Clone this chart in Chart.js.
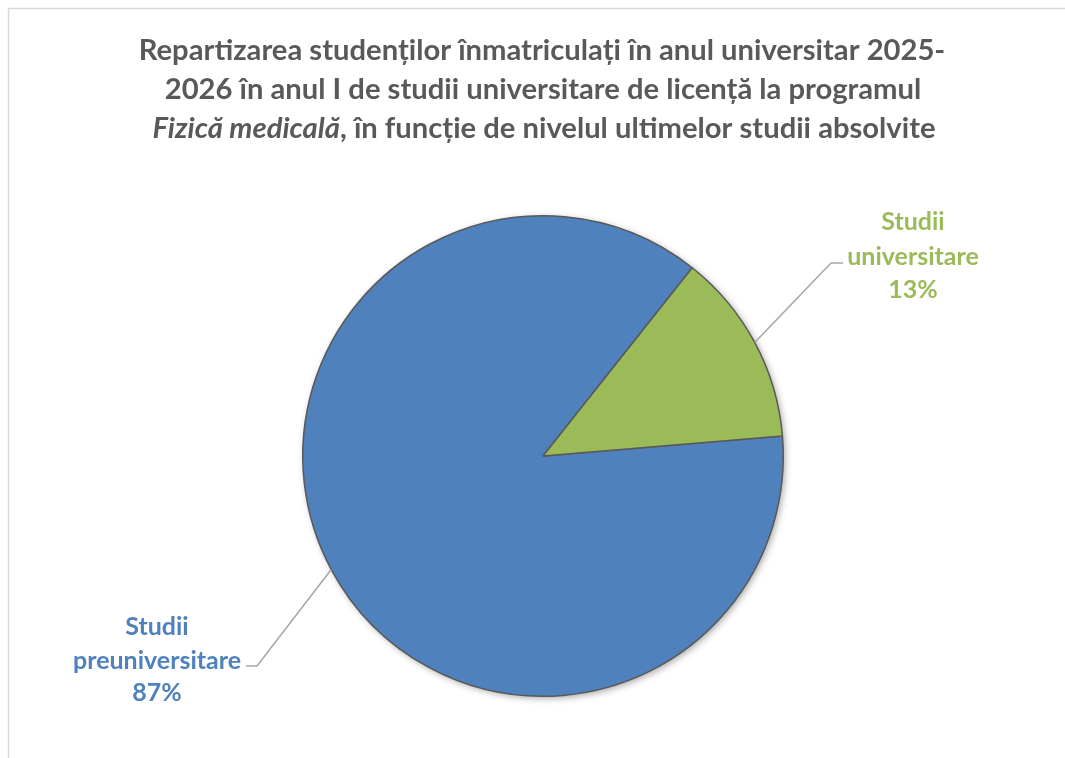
<!DOCTYPE html>
<html><head><meta charset="utf-8">
<script src="https://cdn.jsdelivr.net/npm/chart.js@4.4.1/dist/chart.umd.min.js"></script>
<style>html,body{margin:0;padding:0;background:#fff;overflow:hidden}canvas{display:block}</style>
</head><body>
<canvas id="c" width="1065" height="758"></canvas>
<script>
// ---- data ----
const categories = ["Studii preuniversitare", "Studii universitare"];
const labelLines = [["Studii", "preuniversitare"], ["Studii", "universitare"]];
const values = [87, 13];
const colors = ["#4F81BD", "#9BBB59"];
const titleLine1 = "Repartizarea studenților înmatriculați în anul universitar 2025-";
const titleLine2 = "2026 în anul I de studii universitare de licență la programul";
const titleLine3Italic = "Fizică medicală";
const titleLine3Rest = ", în funcție de nivelul ultimelor studii absolvite";

const FONT = "Lato, 'Open Sans', 'Noto Sans', sans-serif";
const total = values.reduce((a, b) => a + b, 0);

// label layout (label block centre, elbow and end of leader)
const labelLayout = [
  { cx: 157, ys: [627, 661, 693], elbow: [257, 666], end: [246, 666] },
  { cx: 913, ys: [222, 257, 290], elbow: [831, 263], end: [843, 263] }
];

function fitSize(ctx, text, style, target, base) {
  ctx.font = style + " " + base + "px " + FONT;
  const w = ctx.measureText(text).width;
  return base * target / w;
}

const decor = {
  id: 'decor',
  beforeDraw(chart) {
    const ctx = chart.ctx;
    ctx.save();
    ctx.fillStyle = '#fff';
    ctx.fillRect(0, 0, chart.width, chart.height);
    ctx.strokeStyle = '#d9d9d9';
    ctx.lineWidth = 1.5;
    ctx.strokeRect(8.5, 8.5, 1200, 1000);
    ctx.restore();
  },
  beforeDatasetsDraw(chart) {
    const arc = chart.getDatasetMeta(0).data[0];
    const ctx = chart.ctx;
    ctx.save();
    ctx.shadowColor = 'rgba(0,0,0,0.35)';
    ctx.shadowBlur = 7;
    ctx.shadowOffsetX = 2;
    ctx.shadowOffsetY = 2;
    ctx.fillStyle = '#888';
    ctx.beginPath();
    ctx.arc(arc.x, arc.y, arc.outerRadius, 0, Math.PI * 2);
    ctx.fill();
    ctx.restore();
  },
  afterDraw(chart) {
    const ctx = chart.ctx;
    ctx.save();
    // title
    const ts = fitSize(ctx, titleLine1, "bold", 807, 24);
    ctx.fillStyle = '#595959';
    ctx.textBaseline = 'middle';
    ctx.textAlign = 'center';
    ctx.font = "bold " + ts + "px " + FONT;
    ctx.fillText(titleLine1, 542, 51);
    ctx.fillText(titleLine2, 543, 90);
    ctx.textAlign = 'left';
    ctx.font = "italic bold " + ts + "px " + FONT;
    const wi = ctx.measureText(titleLine3Italic).width;
    ctx.font = "bold " + ts + "px " + FONT;
    const wr = ctx.measureText(titleLine3Rest).width;
    const x0 = 544 - (wi + wr) / 2;
    ctx.font = "italic bold " + ts + "px " + FONT;
    ctx.fillText(titleLine3Italic, x0, 129);
    ctx.font = "bold " + ts + "px " + FONT;
    ctx.fillText(titleLine3Rest, x0 + wi, 129);

    // leaders + labels
    const meta = chart.getDatasetMeta(0);
    const ls = fitSize(ctx, "preuniversitare", "bold", 168, 20);
    meta.data.forEach((arc, i) => {
      const L = labelLayout[i];
      const mid = (arc.startAngle + arc.endAngle) / 2;
      const sx = arc.x + Math.cos(mid) * arc.outerRadius;
      const sy = arc.y + Math.sin(mid) * arc.outerRadius;
      ctx.strokeStyle = '#a6a6a6';
      ctx.lineWidth = 1.5;
      ctx.beginPath();
      ctx.moveTo(sx, sy);
      ctx.lineTo(L.elbow[0], L.elbow[1]);
      ctx.lineTo(L.end[0], L.end[1]);
      ctx.stroke();
      const lines = labelLines[i].concat([Math.round(values[i] / total * 100) + "%"]);
      ctx.fillStyle = colors[i];
      ctx.textAlign = 'center';
      ctx.textBaseline = 'middle';
      ctx.font = "bold " + ls + "px " + FONT;
      lines.forEach((t, k) => ctx.fillText(t, L.cx, L.ys[k]));
    });
    ctx.restore();
  }
};

new Chart(document.getElementById('c'), {
  type: 'pie',
  data: {
    labels: categories,
    datasets: [{
      data: values,
      backgroundColor: colors,
      borderColor: '#595959',
      borderWidth: 1.5
    }]
  },
  options: {
    responsive: false,
    animation: false,
    rotation: 85.2,
    layout: { padding: { left: 302, right: 281, top: 215, bottom: 61 } },
    plugins: { legend: { display: false }, tooltip: { enabled: false }, title: { display: false } }
  },
  plugins: [decor]
});
</script>
</body></html>
